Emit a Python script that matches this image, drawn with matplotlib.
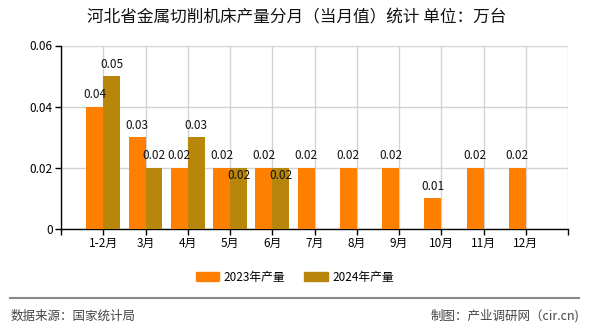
import numpy as np
import matplotlib
matplotlib.use('Agg')
import matplotlib.pyplot as plt
from matplotlib.patches import Patch

#%% data
months = ['1-2月', '3月', '4月', '5月', '6月', '7月', '8月', '9月', '10月', '11月', '12月']
prod_2023 = [0.04, 0.03, 0.02, 0.02, 0.02, 0.02, 0.02, 0.02, 0.01, 0.02, 0.02]
prod_2024 = [0.05, 0.02, 0.03, 0.02, 0.02]
yticks = [0, 0.02, 0.04, 0.06]
ytick_labels = ['0', '0.02', '0.04', '0.06']

title = '河北省金属切削机床产量分月（当月值）统计 单位：万台'
source = '数据来源：国家统计局'
credit = '制图：产业调研网（cir.cn)'

#%% style
plt.rcParams['font.family'] = ['Noto Sans CJK SC', 'DejaVu Sans']
c23 = '#FF8000'
c24 = '#B8860B'

fig = plt.figure(figsize=(5.9, 3.3), dpi=100)
ax = fig.add_axes([61/590, 1-229/330, (568-61)/590, (229-45.5)/330])

x = np.arange(1, len(months)+1)
x24 = np.arange(1, len(prod_2024)+1)
w = 0.4
ax.bar(x - w/2, prod_2023, width=w, color=c23, zorder=3)
ax.bar(x24 + w/2, prod_2024, width=w, color=c24, zorder=3)

# value labels
for xi, v in zip(x, prod_2023):
    ax.annotate(f'{v:.2f}', (xi - w/2, v), xytext=(0, 4), textcoords='offset points',
                ha='center', va='bottom', fontsize=8.5, color='#111')
for i, (xi, v) in enumerate(zip(x24, prod_2024)):
    if v == prod_2023[i] and i > 0:
        # same height as 2023 bar -> label pushed below the top
        ax.annotate(f'{v:.2f}', (xi + w/2, v), xytext=(0, -0.5), textcoords='offset points',
                    ha='center', va='top', fontsize=8.5, color='#111', zorder=4)
    else:
        ax.annotate(f'{v:.2f}', (xi + w/2, v), xytext=(0, 4), textcoords='offset points',
                    ha='center', va='bottom', fontsize=8.5, color='#111')

ax.set_xlim(0, len(months)+1)
ax.set_ylim(0, 0.06)
ax.set_xticks(np.arange(0, len(months)+2))
ax.set_xticklabels([''] + months + [''], fontsize=8.5)
ax.set_yticks(yticks)
ax.set_yticklabels(ytick_labels, fontsize=8.5)
ax.tick_params(axis='both', length=4, width=1, color='black', pad=2)
ax.grid(True, color='#d3d3d3', linewidth=1, zorder=0)
ax.set_axisbelow(True)
for s in ['top', 'right']:
    ax.spines[s].set_visible(False)
for s in ['left', 'bottom']:
    ax.spines[s].set_color('black')
    ax.spines[s].set_linewidth(1)

fig.text(0.503, 1-18/330, title, ha='center', va='center', fontsize=12, color='#111')

handles = [Patch(color=c23, label='2023年产量'), Patch(color=c24, label='2024年产量')]
fig.legend(handles=handles, loc='center', bbox_to_anchor=(0.5, 1-277/330), ncol=2,
           frameon=False, fontsize=8.5, handlelength=2.0, handleheight=0.9,
           handletextpad=0.4, columnspacing=1.6)

fig.add_artist(plt.Line2D([10/590, 579/590], [1-298/330, 1-298/330], color='#888888',
                          linewidth=1.5, transform=fig.transFigure))
fig.text(11/590, 1-316/330, source, ha='left', va='center', fontsize=9, color='#444')
fig.text(579/590, 1-316/330, credit, ha='right', va='center', fontsize=9, color='#444')

fig.savefig('out.png', dpi=100)
